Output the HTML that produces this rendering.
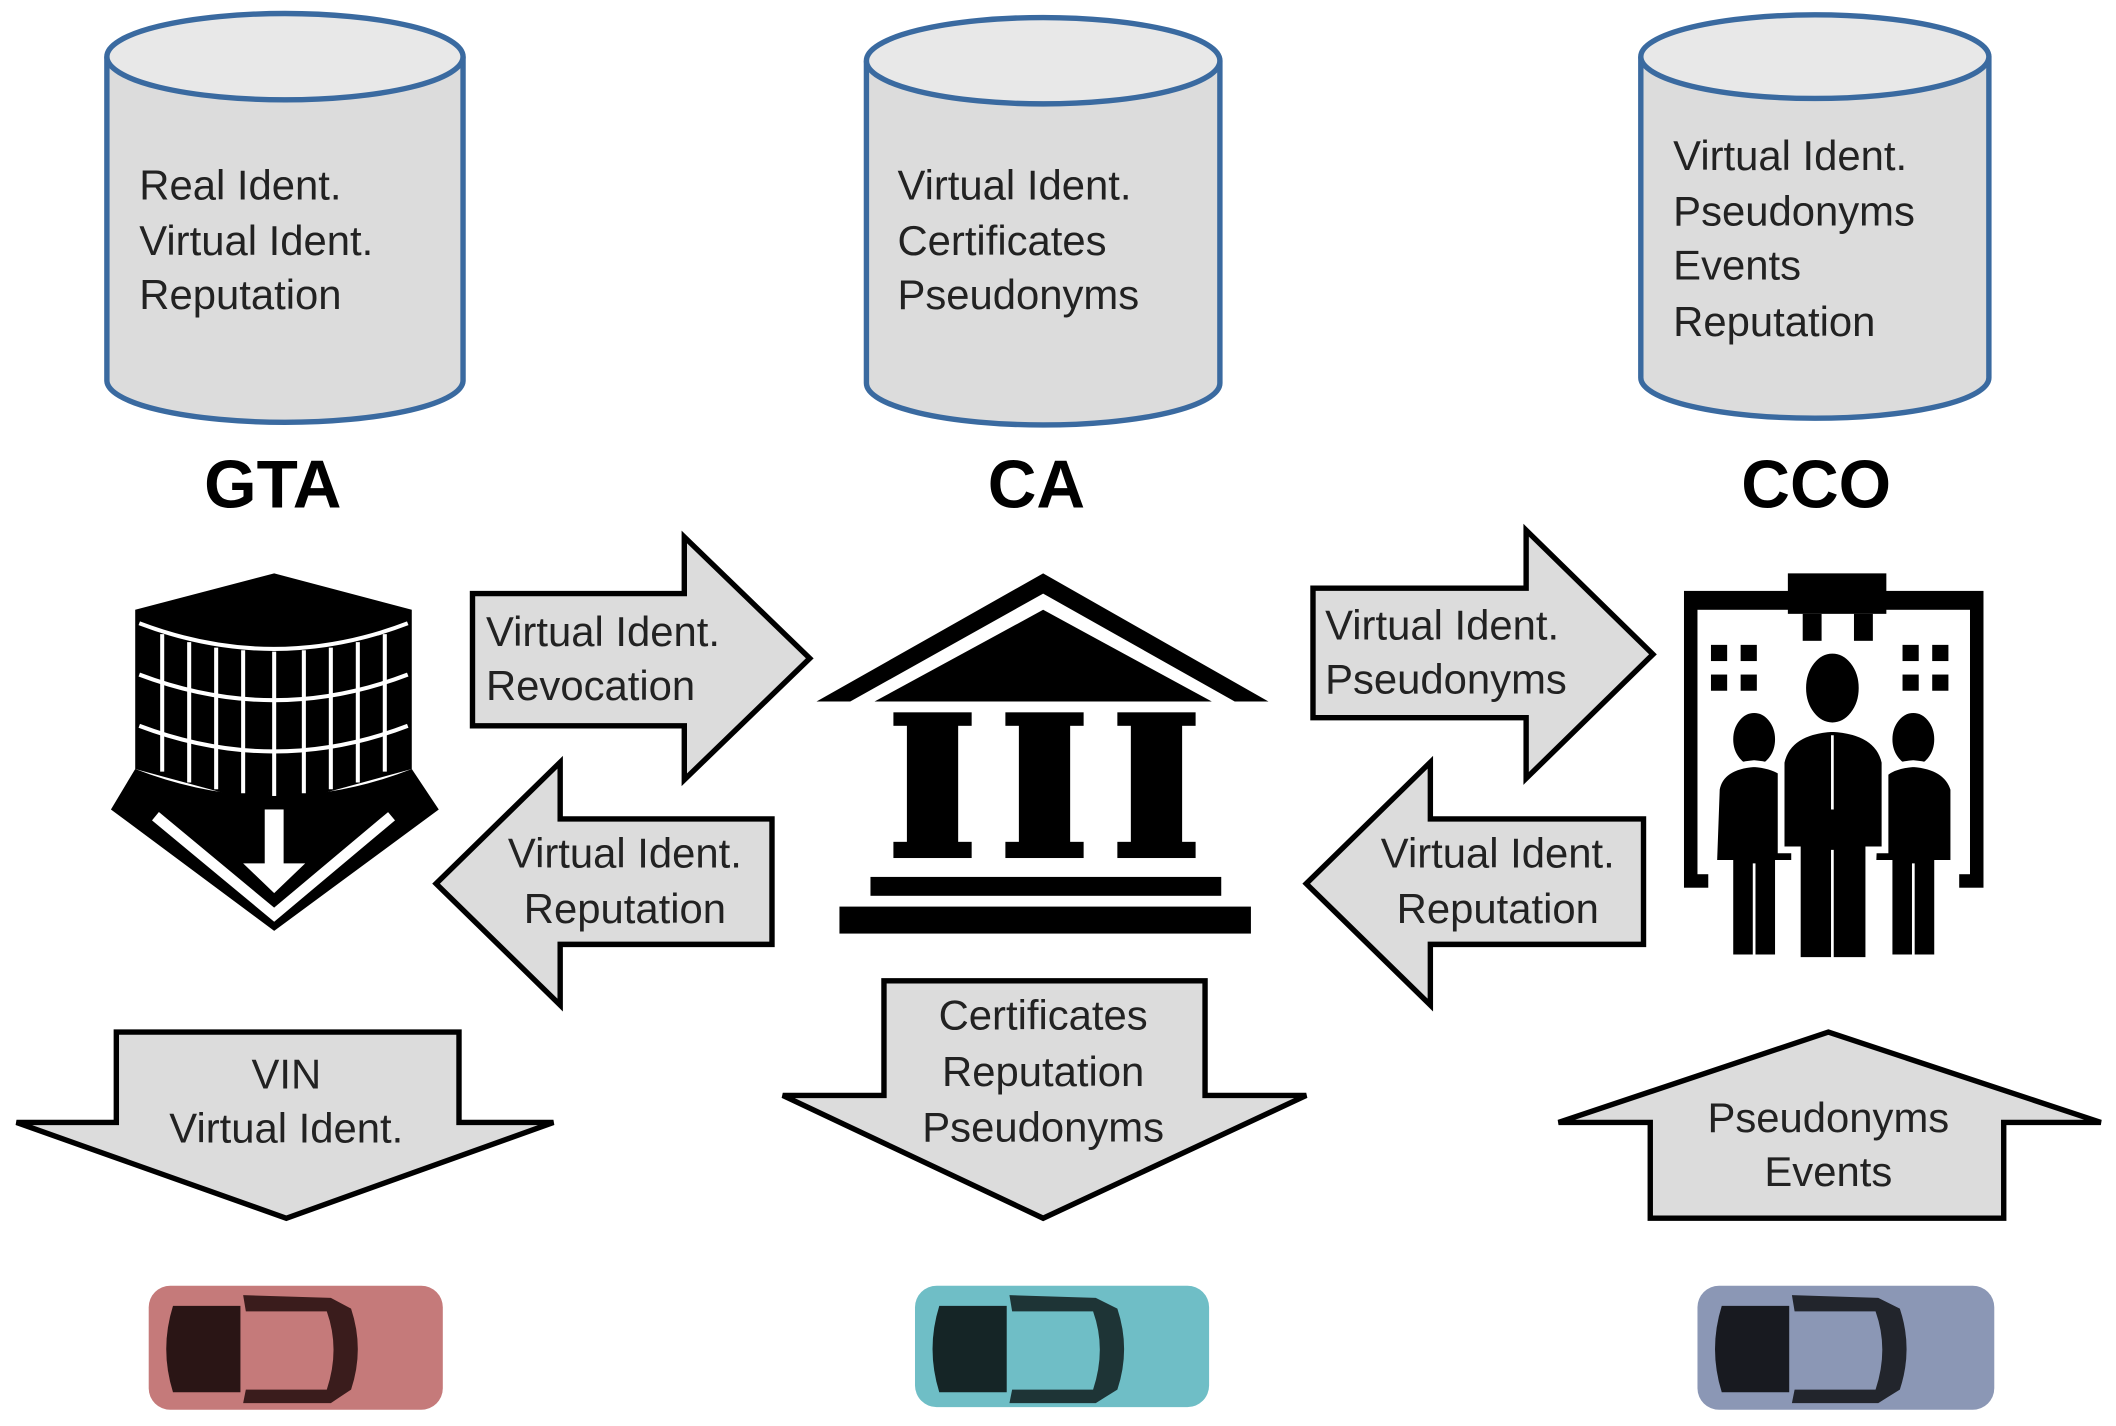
<!DOCTYPE html>
<html><head><meta charset="utf-8"><style>
html,body{margin:0;padding:0;background:#fff;}
svg{display:block;}
text{font-family:"Liberation Sans",sans-serif;fill:#222;}
.t{font-size:31px;}
.h{font-size:50px;font-weight:bold;fill:#000;}
.ar{fill:#dcdcdc;stroke:#000;stroke-width:4;stroke-linejoin:miter;}
.cyl{fill:#dcdcdc;stroke:#3a6aa0;stroke-width:4;}
</style></head><body>
<svg width="2116" height="1426" viewBox="0 0 1568 1057" xmlns="http://www.w3.org/2000/svg">
<!-- cylinders -->
<g>
<path class="cyl" d="M79,42 L79,282 A132,31 0 0 0 343,282 L343,42"/>
<ellipse class="cyl" cx="211" cy="42" rx="132" ry="32" style="fill:#e8e8e8"/>
<text class="t" x="103" y="148">Real Ident.</text>
<text class="t" x="103" y="189">Virtual Ident.</text>
<text class="t" x="103" y="229">Reputation</text>
</g>
<g>
<path class="cyl" d="M642,45 L642,284 A131,31 0 0 0 904,284 L904,45"/>
<ellipse class="cyl" cx="773" cy="45" rx="131" ry="32" style="fill:#e8e8e8"/>
<text class="t" x="665" y="148">Virtual Ident.</text>
<text class="t" x="665" y="189">Certificates</text>
<text class="t" x="665" y="229">Pseudonyms</text>
</g>
<g>
<path class="cyl" d="M1216,42 L1216,280 A129,30 0 0 0 1474,280 L1474,42"/>
<ellipse class="cyl" cx="1345" cy="42" rx="129" ry="31" style="fill:#e8e8e8"/>
<text class="t" x="1240" y="126">Virtual Ident.</text>
<text class="t" x="1240" y="167">Pseudonyms</text>
<text class="t" x="1240" y="207">Events</text>
<text class="t" x="1240" y="249">Reputation</text>
</g>
<text class="h" x="202" y="376" text-anchor="middle">GTA</text>
<text class="h" x="768" y="376" text-anchor="middle">CA</text>
<text class="h" x="1346" y="376" text-anchor="middle">CCO</text>

<!-- arrows -->
<polygon class="ar" points="350,440 507,440 507,398 600,488 507,578 507,538 350,538"/>
<text class="t" x="360" y="479">Virtual Ident.</text>
<text class="t" x="360" y="519">Revocation</text>

<polygon class="ar" points="572,607 415,607 415,565 323,655 415,745 415,700 572,700"/>
<text class="t" x="463" y="643" text-anchor="middle">Virtual Ident.</text>
<text class="t" x="463" y="684" text-anchor="middle">Reputation</text>

<polygon class="ar" points="973,436 1131,436 1131,393 1225,485 1131,577 1131,532 973,532"/>
<text class="t" x="982" y="474">Virtual Ident.</text>
<text class="t" x="982" y="514">Pseudonyms</text>

<polygon class="ar" points="1218,607 1060,607 1060,565 968,655 1060,745 1060,700 1218,700"/>
<text class="t" x="1110" y="643" text-anchor="middle">Virtual Ident.</text>
<text class="t" x="1110" y="684" text-anchor="middle">Reputation</text>

<polygon class="ar" points="86,765 340,765 340,832 410,832 212,903 12,832 86,832"/>
<text class="t" x="212" y="807" text-anchor="middle">VIN</text>
<text class="t" x="212" y="847" text-anchor="middle">Virtual Ident.</text>

<polygon class="ar" points="655,727 893,727 893,812 968,812 773,903 580,812 655,812"/>
<text class="t" x="773" y="763" text-anchor="middle">Certificates</text>
<text class="t" x="773" y="805" text-anchor="middle">Reputation</text>
<text class="t" x="773" y="846" text-anchor="middle">Pseudonyms</text>

<polygon class="ar" points="1355,765 1557,832 1485,832 1485,903 1223,903 1223,832 1155,832"/>
<text class="t" x="1355" y="839" text-anchor="middle">Pseudonyms</text>
<text class="t" x="1355" y="879" text-anchor="middle">Events</text>

<!-- GTA building icon -->
<g>
<path d="M100,452 L203,425 L305,452 L305,570 L203,598 L100,570 Z" fill="#000"/>
<g stroke="#fff" stroke-width="3" fill="none">
<path d="M103,462 Q203,500 302,462"/>
<path d="M103,500 Q203,538 302,500"/>
<path d="M103,538 Q203,576 302,538"/>
<line x1="120" y1="470" x2="120" y2="572"/>
<line x1="140" y1="476" x2="140" y2="580"/>
<line x1="160" y1="480" x2="160" y2="585"/>
<line x1="180" y1="482" x2="180" y2="588"/>
<line x1="203" y1="483" x2="203" y2="590"/>
<line x1="225" y1="482" x2="225" y2="588"/>
<line x1="245" y1="480" x2="245" y2="585"/>
<line x1="265" y1="476" x2="265" y2="580"/>
<line x1="285" y1="470" x2="285" y2="572"/>
</g>
<path d="M100,570 Q203,610 305,570 L325,600 L203,690 L82,600 Z" fill="#000"/>
<path d="M115,605 L203,678 L290,605" stroke="#fff" stroke-width="8" fill="none"/>
<rect x="196" y="600" width="14" height="45" fill="#fff"/>
<path d="M180,640 L203,662 L226,640" fill="#fff"/>
</g>

<!-- CA temple -->
<g fill="#000">
<polygon points="605,520 773,425 940,520 915,520 773,440 630,520"/>
<polygon points="648,520 773,452 898,520"/>
<rect x="662" y="528" width="58" height="10"/>
<rect x="745" y="528" width="58" height="10"/>
<rect x="828" y="528" width="58" height="10"/>
<rect x="672" y="536" width="38" height="90"/>
<rect x="755" y="536" width="38" height="90"/>
<rect x="838" y="536" width="38" height="90"/>
<rect x="662" y="624" width="58" height="12"/>
<rect x="745" y="624" width="58" height="12"/>
<rect x="828" y="624" width="58" height="12"/>
<rect x="645" y="650" width="260" height="14"/>
<rect x="622" y="672" width="305" height="20"/>
</g>

<!-- CCO icon -->
<g>
<rect x="1248" y="438" width="222" height="220" fill="#000"/>
<rect x="1258" y="452" width="202" height="196" fill="#fff"/>
<rect x="1325" y="425" width="73" height="30" fill="#000"/>
<g fill="#000">
<rect x="1268" y="478" width="12" height="12"/><rect x="1290" y="478" width="12" height="12"/>
<rect x="1268" y="500" width="12" height="12"/><rect x="1290" y="500" width="12" height="12"/>
<rect x="1410" y="478" width="12" height="12"/><rect x="1432" y="478" width="12" height="12"/>
<rect x="1410" y="500" width="12" height="12"/><rect x="1432" y="500" width="12" height="12"/>
<rect x="1336" y="455" width="14" height="20"/><rect x="1374" y="455" width="14" height="20"/>
</g>
<rect x="1266" y="640" width="186" height="30" fill="#fff"/>
<g fill="#000" stroke="#fff" stroke-width="5">
<ellipse cx="1300" cy="548" rx="18" ry="22"/>
<path d="M1272,585 Q1275,568 1300,566 Q1325,568 1330,585 L1330,640 L1318,640 L1318,710 L1282,710 L1282,640 L1270,640 Z"/>
<ellipse cx="1418" cy="548" rx="18" ry="22"/>
<path d="M1390,585 Q1393,568 1418,566 Q1443,568 1448,585 L1448,640 L1436,640 L1436,710 L1400,710 L1400,640 L1388,640 Z"/>
<ellipse cx="1358" cy="510" rx="22" ry="28"/>
<path d="M1320,565 Q1325,542 1358,540 Q1392,542 1397,565 L1397,630 L1385,630 L1385,712 L1332,712 L1332,630 L1320,630 Z"/>
</g>
<g stroke="#fff" stroke-width="2"><line x1="1300" y1="640" x2="1300" y2="710"/><line x1="1418" y1="640" x2="1418" y2="710"/><line x1="1358" y1="630" x2="1358" y2="712"/><line x1="1358" y1="545" x2="1358" y2="600"/></g>
</g>

<!-- cars -->
<g>
<rect x="110" y="953" width="218" height="92" rx="16" fill="#c57a7a"/>
<path d="M128,968 L178,968 L178,1032 L128,1032 Q118,1000 128,968 Z" fill="#2a1515"/>
<path d="M180,960 L245,962 L260,970 Q270,1000 260,1030 L245,1040 L180,1040 L182,1030 L242,1030 Q252,1000 242,972 L182,972 Z" fill="#3a1c1c"/>
</g>
<g>
<rect x="678" y="953" width="218" height="90" rx="16" fill="#6fbec6"/>
<path d="M696,968 L746,968 L746,1032 L696,1032 Q686,1000 696,968 Z" fill="#152526"/>
<path d="M748,960 L812,962 L828,970 Q838,1000 828,1030 L812,1040 L748,1040 L750,1030 L810,1030 Q820,1000 810,972 L750,972 Z" fill="#1e3436"/>
</g>
<g>
<rect x="1258" y="953" width="220" height="92" rx="16" fill="#8b97b5"/>
<path d="M1276,968 L1326,968 L1326,1032 L1276,1032 Q1266,1000 1276,968 Z" fill="#181a20"/>
<path d="M1328,960 L1392,962 L1408,970 Q1418,1000 1408,1030 L1392,1040 L1328,1040 L1330,1030 L1390,1030 Q1400,1000 1390,972 L1330,972 Z" fill="#22252c"/>
</g>
</svg>
</body></html>
